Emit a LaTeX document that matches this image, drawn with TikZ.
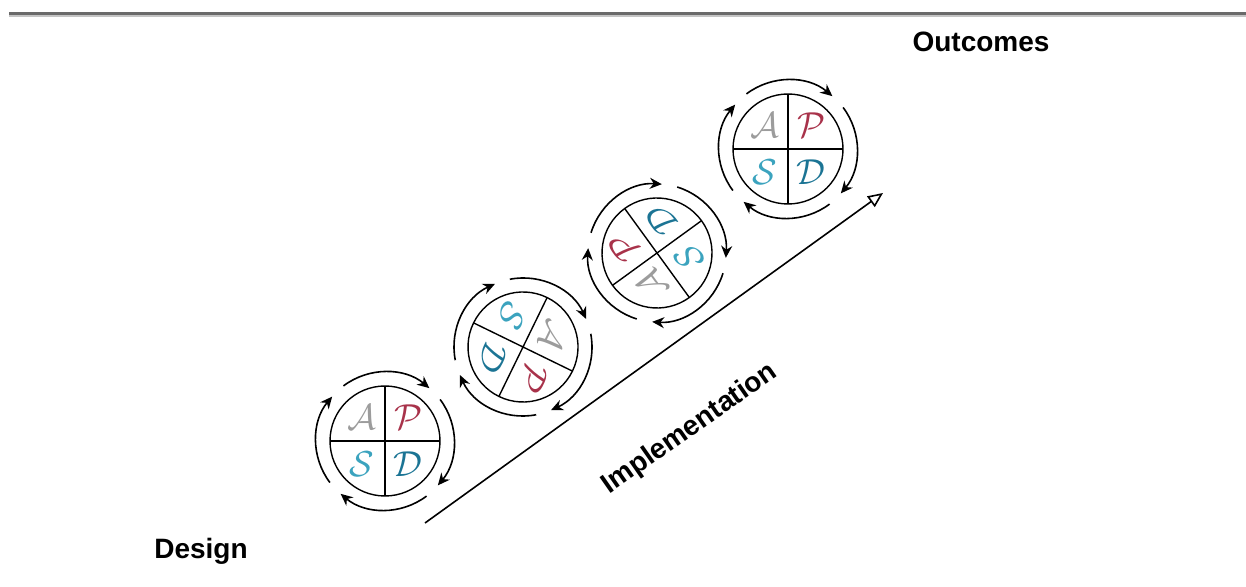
\documentclass[tikz,border=0pt]{standalone}
\usepackage{amsmath}
\usepackage{fontspec}
\setmainfont{Liberation Sans}
\usepackage{tikz}
\usetikzlibrary{arrows.meta}
\definecolor{rulegray}{HTML}{6A6A6A}
\definecolor{rulelight}{HTML}{C4C4C4}
\definecolor{agray}{HTML}{9C9C9C}
\definecolor{pred}{HTML}{A8324A}
\definecolor{steal}{HTML}{3BA3BE}
\definecolor{dteal}{HTML}{1B7494}

\begin{document}
\begin{tikzpicture}[x=1pt,y=1pt,line width=1.4pt,
  lbl/.style={font=\fontsize{28}{28}\selectfont\bfseries},
  letter/.style={font=\fontsize{24.88}{25}\selectfont,scale=1.45}]
\useasboundingbox(0,0)rectangle(1246,586);
\draw[line width=2.2pt,rulegray](9,572.5)--(1246,572.5);
\draw[line width=2pt,rulelight](9,570.3)--(1246,570.3);
\foreach \cx/\cy/\rot/\n in {385/145/0/1,523/239/-116/2,657/333/126/3,788/437/0/4}{
\begin{scope}[shift={(\cx,\cy)},rotate=\rot,transform shape]
\draw(0,0)circle(55pt);
\draw(-55pt,0)--(55pt,0)(0,-55pt)--(0,55pt);
\node[letter,text=agray](a\n)at(135:33pt){$\mathcal{A}$};
\node[letter,text=pred](p\n)at(45:33pt){$\mathcal{P}$};
\node[letter,text=steal](s\n)at(-135:33pt){$\mathcal{S}$};
\node[letter,text=dteal](d\n)at(-45:33pt){$\mathcal{D}$};
\foreach \k in {0,...,3}
\draw[line width=1.6pt,-{Stealth[length=12pt,width=11pt]}]({127-90*\k}:69pt)arc({127-90*\k}:{50-90*\k}:69pt);
\end{scope}
}
\coordinate(ibeg)at(425,63);
\coordinate(iend)at(883,393);
\draw[line width=1.6pt,-{Triangle[open,length=15pt,width=13pt]}](ibeg)--(iend);
\node[lbl,rotate=35](impl)at(690,157){Implementation};
\node[lbl,anchor=base](outc)at(981,534){Outcomes};
\node[lbl,anchor=base](des)at(201,28){Design};
\end{tikzpicture}
\end{document}
